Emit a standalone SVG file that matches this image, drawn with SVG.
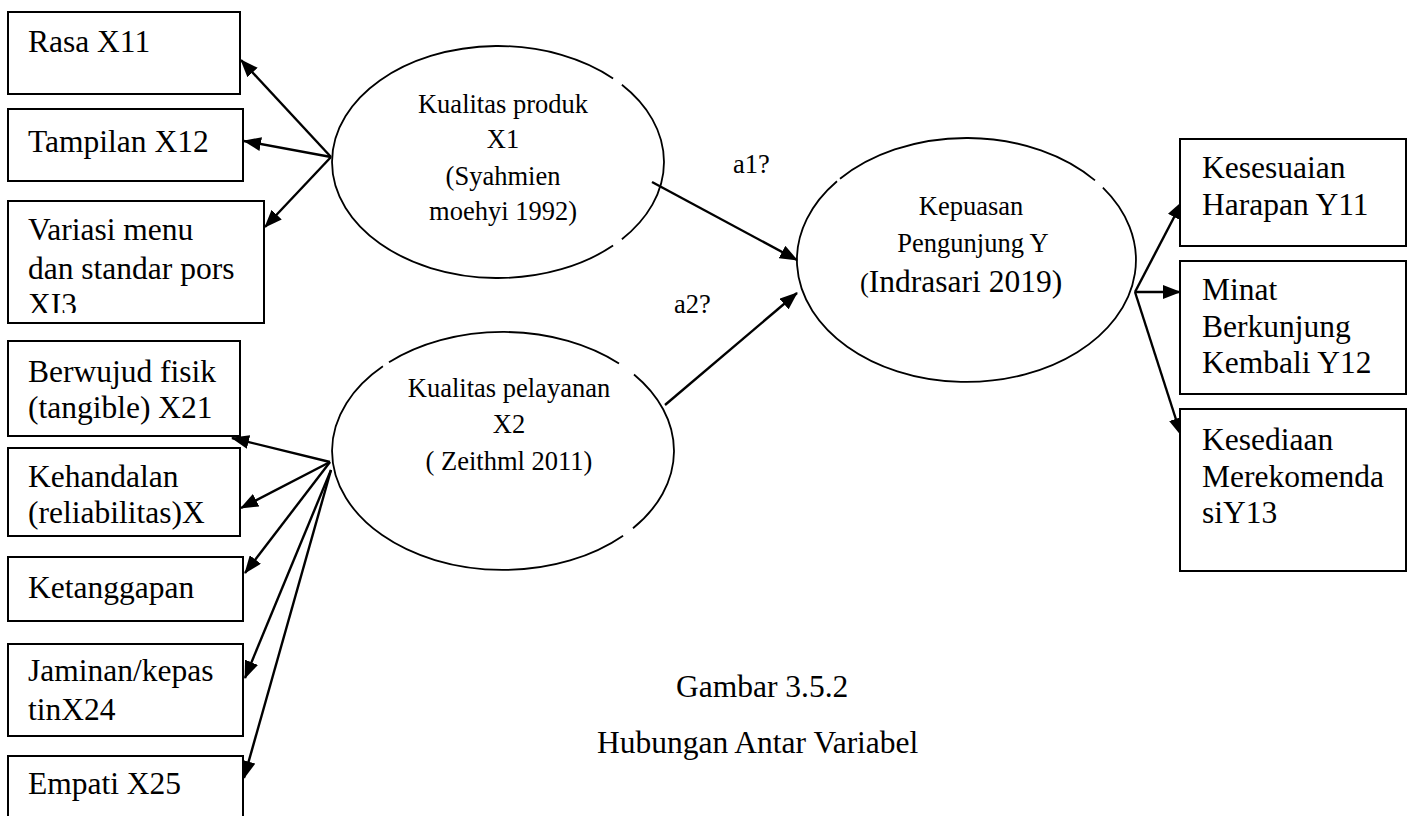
<svg xmlns="http://www.w3.org/2000/svg" width="1413" height="816" viewBox="0 0 1413 816">
<style>
.box{fill:#fff;stroke:#000;stroke-width:2}
.ell{fill:none;stroke:#000;stroke-width:1.8}
.t{font-family:"Liberation Serif","Times New Roman",serif;font-size:31.5px;fill:#000}
.e{font-family:"Liberation Serif","Times New Roman",serif;font-size:26.5px;fill:#000}
.c{fill:none;stroke:#000;stroke-width:2.4}
</style>
<defs>
<marker id="ah" markerUnits="userSpaceOnUse" markerWidth="18" markerHeight="14" refX="17" refY="7" orient="auto">
<path d="M0,0 L18,7 L0,14 z" fill="#000"/>
</marker>
<clipPath id="clip3"><rect x="8" y="201" width="256" height="112"/></clipPath>
</defs>
<rect width="1413" height="816" fill="#fff"/>

<g id="connectors">
<line class="c" x1="331" y1="157" x2="241" y2="60" marker-end="url(#ah)"/>
<line class="c" x1="331" y1="157" x2="244" y2="141" marker-end="url(#ah)"/>
<line class="c" x1="331" y1="157" x2="265" y2="227" marker-end="url(#ah)"/>
<line class="c" x1="330" y1="462" x2="232" y2="438" marker-end="url(#ah)"/>
<line class="c" x1="330" y1="462" x2="241" y2="508" marker-end="url(#ah)"/>
<line class="c" x1="330" y1="462" x2="245" y2="573" marker-end="url(#ah)"/>
<line class="c" x1="331" y1="470" x2="245" y2="678" marker-end="url(#ah)"/>
<line class="c" x1="331" y1="470" x2="244" y2="778" marker-end="url(#ah)"/>
<line class="c" x1="652" y1="182" x2="797" y2="260" marker-end="url(#ah)"/>
<line class="c" x1="665" y1="405" x2="797" y2="293" marker-end="url(#ah)"/>
<line class="c" x1="1135" y1="292" x2="1182" y2="202" marker-end="url(#ah)"/>
<line class="c" x1="1135" y1="292" x2="1180" y2="292" marker-end="url(#ah)"/>
<line class="c" x1="1135" y1="292" x2="1181" y2="435" marker-end="url(#ah)"/>
<text class="e" x="733" y="173">a1?</text>
<text class="e" x="674" y="313">a2?</text>
</g>

<g id="x11">
<rect class="box" x="8" y="12" width="232" height="82"/>
<text class="t" x="28" y="52">Rasa X11</text>
</g>
<g id="x12">
<rect class="box" x="8" y="109" width="235" height="72"/>
<text class="t" x="28" y="152">Tampilan X12</text>
</g>
<g id="x13">
<rect class="box" x="8" y="201" width="256" height="122"/>
<g clip-path="url(#clip3)">
<text class="t" x="28" y="240">Variasi menu</text>
<text class="t" x="28" y="279">dan standar pors</text>
<text class="t" x="28" y="315">XI3</text>
</g>
</g>
<g id="x21">
<rect class="box" x="8" y="341" width="232" height="95"/>
<text class="t" x="28" y="382">Berwujud fisik</text>
<text class="t" x="28" y="418">(tangible) X21</text>
</g>
<g id="x22">
<rect class="box" x="8" y="448" width="232" height="88"/>
<text class="t" x="28" y="487">Kehandalan</text>
<text class="t" x="28" y="523">(reliabilitas)X</text>
</g>
<g id="x23">
<rect class="box" x="8" y="557" width="235" height="64"/>
<text class="t" x="28" y="598">Ketanggapan</text>
</g>
<g id="x24">
<rect class="box" x="8" y="644" width="235" height="92"/>
<text class="t" x="28" y="681">Jaminan/kepas</text>
<text class="t" x="28" y="720">tinX24</text>
</g>
<g id="x25">
<rect class="box" x="8" y="756" width="235" height="80"/>
<text class="t" x="28" y="794">Empati X25</text>
</g>

<g id="X1">
<path class="ell" d="M621.9,84.8 A166,116 0 0 1 621.9,239.2 M613.1,245.6 A166,116 0 1 1 613.1,78.4"/>
<text class="e" text-anchor="middle" x="503" y="113">Kualitas produk</text>
<text class="e" text-anchor="middle" x="503" y="148">X1</text>
<text class="e" text-anchor="middle" x="503" y="185">(Syahmien</text>
<text class="e" text-anchor="middle" x="503" y="220">moehyi 1992)</text>
</g>

<g id="X2">
<path class="ell" d="M389,362.3 A171,119 0 0 1 619,363.5 M634,374.5 A171,119 0 0 1 633,528.3 M623.1,535.7 A171,119 0 0 1 382.1,535.1 A171,119 0 0 1 382.9,366.3"/>
<text class="e" text-anchor="middle" x="509" y="397">Kualitas pelayanan</text>
<text class="e" text-anchor="middle" x="509" y="433">X2</text>
<text class="e" text-anchor="middle" x="509" y="470">( Zeithml 2011)</text>
</g>

<g id="Y">
<path class="ell" d="M840,178.8 A169.5,122 0 0 1 1095,180.4 M1102.9,187.6 A169.5,122 0 1 1 837,181.2"/>
<text class="e" text-anchor="middle" x="971" y="215">Kepuasan</text>
<text class="e" text-anchor="middle" x="973" y="252">Pengunjung Y</text>
<text class="t" x="860" y="292"><tspan font-size="26.5">(</tspan>Indrasari 2019)</text>
</g>

<g id="y11">
<rect class="box" x="1180" y="139" width="226" height="107"/>
<text class="t" x="1202" y="178">Kesesuaian</text>
<text class="t" x="1202" y="215">Harapan Y11</text>
</g>
<g id="y12">
<rect class="box" x="1180" y="261" width="226" height="133"/>
<text class="t" x="1202" y="300">Minat</text>
<text class="t" x="1202" y="337">Berkunjung</text>
<text class="t" x="1202" y="373">Kembali Y12</text>
</g>
<g id="y13">
<rect class="box" x="1180" y="409" width="226" height="162"/>
<text class="t" x="1202" y="450">Kesediaan</text>
<text class="t" x="1202" y="487">Merekomenda</text>
<text class="t" x="1202" y="523">siY13</text>
</g>

<g id="caption">
<text class="t" x="676" y="697">Gambar 3.5.2</text>
<text class="t" x="597" y="753" font-size="30.5">Hubungan Antar Variabel</text>
</g>
</svg>
